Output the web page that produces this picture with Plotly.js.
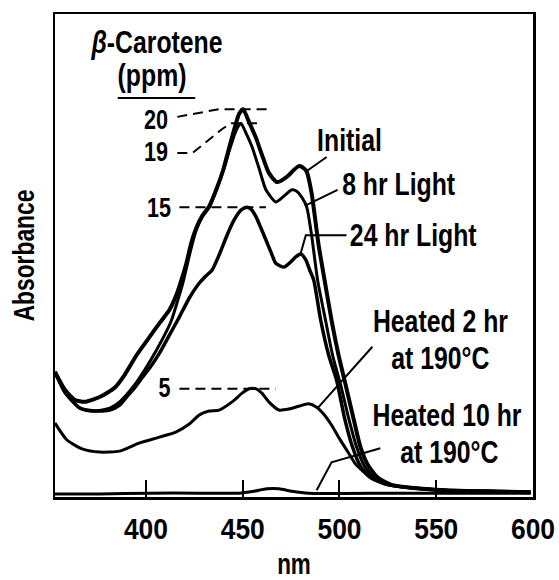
<!DOCTYPE html>
<html><head><meta charset="utf-8">
<script src="https://cdn.plot.ly/plotly-3.0.1.min.js"></script>
<style>html,body{margin:0;padding:0;background:#fff}#chart{width:559px;height:580px}</style>
</head><body><div id="chart"></div>
<script>
// ---- data (wavelength in nm, absorbance in arbitrary units) ----
const nmTicks = [400, 450, 500, 550, 600];

const initialNm  = [353.0,358.1,363.3,368.4,376.1,383.8,389.0,395.2,401.8,407.0,412.1,415.7,418.3,420.9,423.4,426.0,429.1,432.7,436.3,439.9,443.0,446.1,448.1,450.2,453.3,456.9,460.5,463.5,467.7,472.8,476.4,479.0,481.5,483.1,485.6,489.2,492.3,495.9,499.5,502.6,506.7,510.8,515.0,520.1,526.8,537.1,554.5,598.8];
const initialAbs = [0.259,0.222,0.201,0.197,0.207,0.226,0.253,0.294,0.331,0.360,0.387,0.418,0.449,0.484,0.526,0.557,0.582,0.602,0.636,0.677,0.723,0.768,0.793,0.803,0.776,0.743,0.702,0.671,0.652,0.663,0.677,0.685,0.681,0.673,0.629,0.522,0.449,0.366,0.294,0.242,0.172,0.104,0.064,0.039,0.025,0.019,0.014,0.010];

const light8Nm  = [353.0,358.1,365.9,373.6,381.3,386.4,394.1,399.3,405.4,409.6,413.2,416.2,418.8,420.9,423.4,426.0,429.1,432.7,436.8,440.4,443.5,446.1,448.1,449.1,452.2,454.8,458.4,462.0,467.1,471.3,475.4,477.9,480.5,483.1,485.6,488.7,492.8,496.4,500.6,504.7,508.8,512.9,518.0,525.2,537.1,554.5,598.8];
const light8Abs = [0.259,0.217,0.184,0.178,0.184,0.197,0.232,0.263,0.304,0.335,0.366,0.404,0.439,0.474,0.516,0.553,0.580,0.600,0.640,0.681,0.723,0.754,0.770,0.774,0.749,0.725,0.681,0.636,0.611,0.623,0.636,0.633,0.621,0.600,0.542,0.449,0.366,0.294,0.232,0.164,0.104,0.064,0.039,0.025,0.019,0.014,0.010];

const light24Nm  = [353.0,358.1,365.9,373.6,381.3,386.4,390.0,394.1,398.2,402.9,407.0,412.1,417.3,422.4,427.6,431.1,434.2,437.8,441.9,445.5,449.1,452.2,454.3,456.9,459.4,462.0,464.6,467.1,471.3,474.9,477.4,480.0,482.6,484.6,486.7,490.3,494.4,498.5,502.6,506.7,510.8,516.5,525.2,537.1,554.5,598.8];
const light24Abs = [0.259,0.217,0.184,0.178,0.180,0.190,0.207,0.226,0.248,0.273,0.298,0.335,0.373,0.412,0.443,0.458,0.470,0.501,0.542,0.573,0.594,0.600,0.596,0.580,0.557,0.532,0.507,0.484,0.476,0.487,0.497,0.503,0.491,0.470,0.449,0.366,0.294,0.242,0.164,0.104,0.064,0.039,0.025,0.019,0.014,0.010];

const heat2Nm  = [353.0,359.2,367.4,376.1,386.4,396.7,407.0,415.7,422.4,427.6,432.7,437.8,444.5,449.7,453.3,456.9,459.9,463.5,468.7,473.8,479.0,484.1,488.2,491.8,495.9,499.5,504.7,508.3,511.4,515.0,518.6,526.8,537.1,554.5,598.8];
const heat2Abs = [0.153,0.118,0.099,0.093,0.095,0.112,0.124,0.135,0.151,0.170,0.178,0.180,0.197,0.215,0.224,0.224,0.215,0.197,0.180,0.182,0.188,0.193,0.186,0.172,0.149,0.124,0.091,0.068,0.056,0.043,0.035,0.025,0.019,0.014,0.010];

const heat10Nm  = [353.0,376.1,401.8,427.6,448.1,455.8,462.5,468.7,475.4,484.1,530.4,598.8];
const heat10Abs = [0.006,0.006,0.008,0.008,0.008,0.012,0.017,0.017,0.012,0.008,0.008,0.008];

// concentration labels (ppm) for the dashed guides, and curve labels
const ppmLabels = ["20", "19", "15", "5"];
const curveLabels = ["Initial", "8 hr Light", "24 hr Light", "Heated 2 hr", "at 190°C", "Heated 10 hr", "at 190°C"];

// ---- drawing ----
const FONT = "'Liberation Sans', Arial, Helvetica, sans-serif";
const BLACK = '#000';
const peak = a => Math.max.apply(null, a);
const p20 = peak(initialAbs), p19 = peak(light8Abs), p15 = peak(light24Abs), p5 = peak(heat2Abs);

function curve(x, y, w) {
  return {x: x, y: y, type: 'scatter', mode: 'lines', hoverinfo: 'skip', showlegend: false,
          line: {color: BLACK, width: w, shape: 'spline', smoothing: 0.6}};
}
function guide(x, y, dash) {
  return {x: x, y: y, type: 'scatter', mode: 'lines', hoverinfo: 'skip', showlegend: false,
          line: {color: BLACK, width: 2, dash: dash || 'solid'}};
}
const DASH = '10px,6px';

const traces = [
  curve(heat10Nm, heat10Abs, 3),
  curve(heat2Nm, heat2Abs, 3),
  curve(light24Nm, light24Abs, 3.5),
  curve(light8Nm, light8Abs, 3),
  curve(initialNm, initialAbs, 4),
  // dashed concentration guides
  guide([416.2, 437.8, 464.6], [0.787, p20, p20], DASH),
  guide([416.2, 424.0, 431.1, 439.4, 444.0, 459.9], [0.712, 0.712, 0.735, 0.762, p19, p19], DASH),
  guide([417.3, 462.0], [p15, p15], DASH),
  guide([417.3, 467.1], [p5, p5], DASH),
  // leader lines from labels to curves
  guide([493.4, 483.1], [0.704, 0.675]),
  guide([499.0, 483.1], [0.636, 0.605]),
  guide([503.6, 482.6, 480.0], [0.542, 0.542, 0.505]),
  guide([517.0, 488.7], [0.311, 0.184]),
  guide([521.1, 495.9, 488.2], [0.101, 0.072, 0.014]),
  // underline beneath "(ppm)"
  guide([385.4, 425.5], [0.826, 0.826])
];

function txt(text, x, y, xanchor, size) {
  return {text: text, x: x, y: y, xref: 'x', yref: 'y', showarrow: false,
          xanchor: xanchor || 'center', yanchor: 'middle',
          font: {family: FONT, size: size || 31, color: BLACK, weight: 700}};
}
const annotations = [
  txt('<i>β</i>-Carotene', 405.4, 0.940),
  txt('(ppm)', 402.9, 0.872),
  txt(ppmLabels[0], 414.0, 0.780, 'right', 27),
  txt(ppmLabels[1], 414.0, 0.714, 'right', 27),
  txt(ppmLabels[2], 415.5, 0.598, 'right', 27),
  txt(ppmLabels[3], 414.5, 0.226, 'right', 27),
  txt(curveLabels[0], 505.2, 0.739),
  txt(curveLabels[1], 530.4, 0.646),
  txt(curveLabels[2], 538.1, 0.542),
  txt(curveLabels[3], 552.0, 0.364),
  txt(curveLabels[4], 552.0, 0.286),
  txt(curveLabels[5], 555.6, 0.168),
  txt(curveLabels[6], 557.1, 0.093)
];

const layout = {
  width: 559, height: 580,
  margin: {l: 55, r: 26, t: 14, b: 83},
  paper_bgcolor: '#fff', plot_bgcolor: '#fff',
  showlegend: false,
  font: {family: FONT, color: BLACK},
  xaxis: {
    range: [353, 600], tickmode: 'array', tickvals: nmTicks, ticktext: nmTicks.map(String),
    ticks: 'inside', ticklen: 17, tickwidth: 2, tickcolor: BLACK,
    showline: true, linewidth: 2.5, linecolor: BLACK, mirror: true,
    showgrid: false, zeroline: false,
    tickfont: {family: FONT, size: 30, color: BLACK, weight: 700}, ticklabelstandoff: 4,
    title: {text: 'nm', font: {family: FONT, size: 30, color: BLACK, weight: 700}, standoff: 14}
  },
  yaxis: {
    range: [0, 1], showticklabels: false, ticks: '',
    showline: true, linewidth: 2.5, linecolor: BLACK, mirror: true,
    showgrid: false, zeroline: false,
    title: {text: 'Absorbance', font: {family: FONT, size: 30, color: BLACK, weight: 700}, standoff: 9}
  },
  annotations: annotations
};

// narrow the lettering horizontally around each text's own anchor, to mimic the condensed typeface
function condense(selector, k) {
  document.querySelectorAll('#chart ' + selector).forEach(function (el) {
    const x = parseFloat(el.getAttribute('x')) || 0;
    const y = parseFloat(el.getAttribute('y')) || 0;
    const t = el.getAttribute('transform') || '';
    el.setAttribute('transform', (t + ' translate(' + x + ',' + y + ') scale(' + k + ',1) translate(' + (-x) + ',' + (-y) + ')').trim());
  });
}

Plotly.newPlot('chart', traces, layout, {staticPlot: true, displayModeBar: false}).then(function () {
  condense('text.annotation-text', 0.8);
  condense('.xtick text', 0.88);
  condense('text.xtitle', 0.75);
  condense('text.ytitle', 0.76);
});
</script>
</body></html>
